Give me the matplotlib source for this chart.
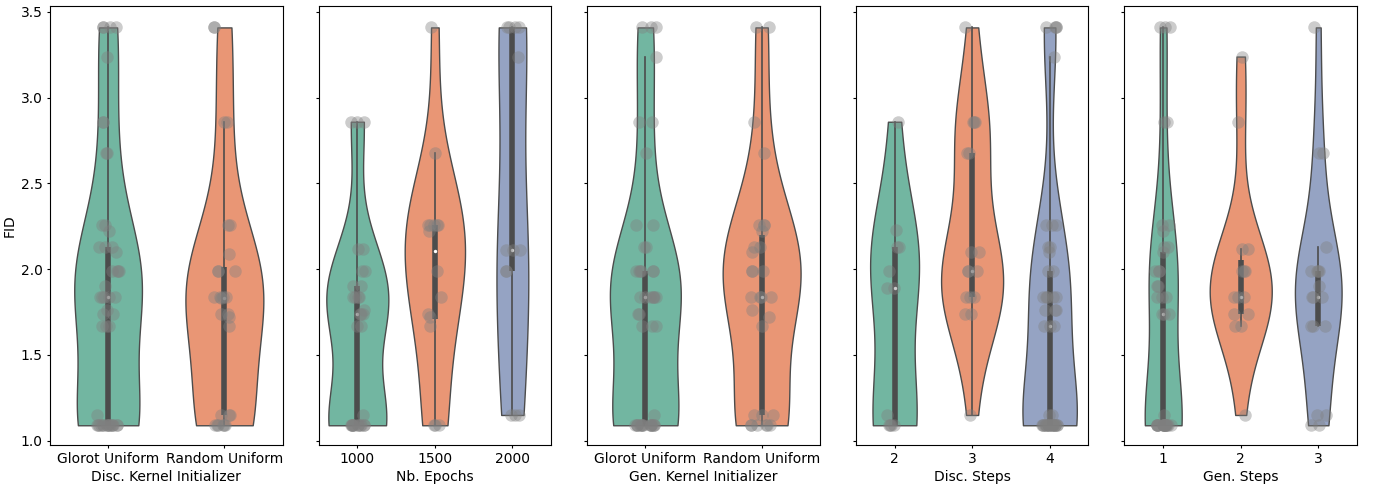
import numpy as np
import pandas as pd
import matplotlib
matplotlib.use("Agg")
import matplotlib.pyplot as plt
import seaborn as sns

# ---------------- data (FID values) ----------------
disc_init_labels = ["Glorot Uniform", "Random Uniform"]
disc_init_glorot = [1.09]*16 + [1.15] + [1.67]*3 + [1.74]*2 + [1.76] + [1.84]*5 + [1.90] + [1.99]*4 + \
                   [2.10] + [2.13]*3 + [2.22] + [2.26]*2 + [2.68]*2 + [2.86]*2 + [3.24] + [3.41]*4
disc_init_random = [1.09]*6 + [1.15]*3 + [1.67, 1.72] + [1.74]*2 + [1.83] + [1.84]*4 + [1.99]*3 + \
                   [2.09] + [2.26]*2 + [2.86]*2 + [3.41]*2

epochs_labels = ["1000", "1500", "2000"]
epochs_1000 = [1.09]*12 + [1.15] + [1.67]*2 + [1.74]*3 + [1.76] + [1.84]*4 + [1.90]*2 + [1.99]*2 + \
              [2.12]*2 + [2.86]*3
epochs_1500 = [1.09]*3 + [1.67, 1.72, 1.74, 1.84, 1.99] + [2.22] + [2.26]*5 + [2.68, 3.41]
epochs_2000 = [1.15]*3 + [1.99]*2 + [2.11]*3 + [3.24] + [3.41]*4

gen_init_labels = ["Glorot Uniform", "Random Uniform"]
gen_init_glorot = [1.09]*16 + [1.15] + [1.67]*3 + [1.74]*2 + [1.84]*7 + [1.99]*6 + [2.13]*2 + \
                  [2.26]*2 + [2.68] + [2.86]*2 + [3.24] + [3.41]*3
gen_init_random = [1.09]*6 + [1.15]*3 + [1.67, 1.72, 1.76] + [1.84]*4 + [1.99]*3 + [2.10] + \
                  [2.13]*2 + [2.22] + [2.26]*3 + [2.68, 2.86] + [3.41]*2

disc_steps_labels = ["2", "3", "4"]
disc_steps_2 = [1.09]*4 + [1.15] + [1.89]*2 + [1.99] + [2.13]*2 + [2.23, 2.86]
disc_steps_3 = [1.15] + [1.74]*2 + [1.84]*3 + [1.99]*3 + [2.10]*2 + [2.68]*2 + [2.86]*3 + [3.41]
disc_steps_4 = [1.09]*19 + [1.15]*2 + [1.67]*3 + [1.76]*3 + [1.84]*5 + [1.99]*2 + [2.10] + \
               [2.13]*2 + [2.26]*3 + [3.24] + [3.41]*4

gen_steps_labels = ["1", "2", "3"]
gen_steps_1 = [1.09]*18 + [1.15] + [1.74]*3 + [1.84]*3 + [1.90]*2 + [1.99]*3 + [2.10] + \
              [2.13]*2 + [2.22] + [2.26]*2 + [2.86]*2 + [3.41]*3
gen_steps_2 = [1.15] + [1.67]*2 + [1.74]*2 + [1.84]*3 + [1.99]*3 + [2.12]*2 + [2.86, 3.24]
gen_steps_3 = [1.09]*2 + [1.15]*2 + [1.67]*3 + [1.84]*3 + [1.90] + [1.99]*4 + [2.13] + [2.68]*2 + [3.41]

panels = [
    ("Disc. Kernel Initializer", disc_init_labels, [disc_init_glorot, disc_init_random]),
    ("Nb. Epochs", epochs_labels, [epochs_1000, epochs_1500, epochs_2000]),
    ("Gen. Kernel Initializer", gen_init_labels, [gen_init_glorot, gen_init_random]),
    ("Disc. Steps", disc_steps_labels, [disc_steps_2, disc_steps_3, disc_steps_4]),
    ("Gen. Steps", gen_steps_labels, [gen_steps_1, gen_steps_2, gen_steps_3]),
]


def kde_curve(values, npts=200):
    """Scott-bandwidth Gaussian KDE evaluated over the data range (cut=0)."""
    v = np.asarray(values, dtype=float)
    n = len(v)
    bw = v.std(ddof=1) * n ** (-0.2)
    grid = np.linspace(v.min(), v.max(), npts)
    d = np.exp(-0.5 * ((grid[:, None] - v[None, :]) / bw) ** 2).sum(1) / (n * bw * np.sqrt(2 * np.pi))
    return grid, d


# ---------------- plotting ----------------
plt.rcParams.update({
    "xtick.major.size": 2.2, "ytick.major.size": 2.2,
    "xtick.major.pad": 3.0, "ytick.major.pad": 3.0,
    "axes.labelpad": 3.0,
})
np.random.seed(3)
fig, axes = plt.subplots(1, 5, figsize=(13.76, 4.86), dpi=100, sharey=True)
fig.subplots_adjust(left=0.0363, right=0.9862, top=0.9877, bottom=0.0844, wspace=0.155)
pal = sns.color_palette("Set2")
edge = "#4c4c4c"

for ax, (xlabel, labels, groups) in zip(axes, panels):
    k = len(labels)
    vw = 0.67 if k == 2 else 0.8
    curves = [kde_curve(g) for g in groups]
    dmax = max(d.max() for _, d in curves)     # area normalisation shared by the panel
    for i, (grid, d) in enumerate(curves):
        half = 0.5 * vw * d / dmax
        ax.fill_betweenx(grid, i - half, i + half, facecolor=sns.desaturate(pal[i], 0.75),
                         edgecolor=edge, linewidth=1, zorder=2)
    # inner box (seaborn style)
    for i, g in enumerate(groups):
        v = np.asarray(g)
        q1, med, q3 = np.percentile(v, [25, 50, 75])
        iqr = q3 - q1
        lo = v[v >= q1 - 1.5 * iqr].min()
        hi = v[v <= q3 + 1.5 * iqr].max()
        ax.plot([i, i], [lo, hi], color=edge, lw=1.2, zorder=3)
        ax.plot([i, i], [q1, q3], color=edge, lw=4, solid_capstyle="butt", zorder=3)
        ax.scatter([i], [med], s=6, color="white", zorder=4, linewidths=0)
    df = pd.DataFrame({
        xlabel: [lab for lab, g in zip(labels, groups) for _ in g],
        "FID": [v for g in groups for v in g],
    })
    sns.stripplot(data=df, x=xlabel, y="FID", order=labels, color="gray", alpha=0.4,
                  size=9, jitter=True, ax=ax, zorder=5)
    ax.set_xlim(-0.5, k - 0.5)
    ax.set_xlabel(xlabel)
    ax.set_ylabel("FID")
    ax.yaxis.set_tick_params(labelleft=(ax is axes[0]))

axes[0].set_ylim(0.975, 3.535)
axes[0].set_yticks([1.0, 1.5, 2.0, 2.5, 3.0, 3.5])
fig.savefig("out.png", dpi=100)
